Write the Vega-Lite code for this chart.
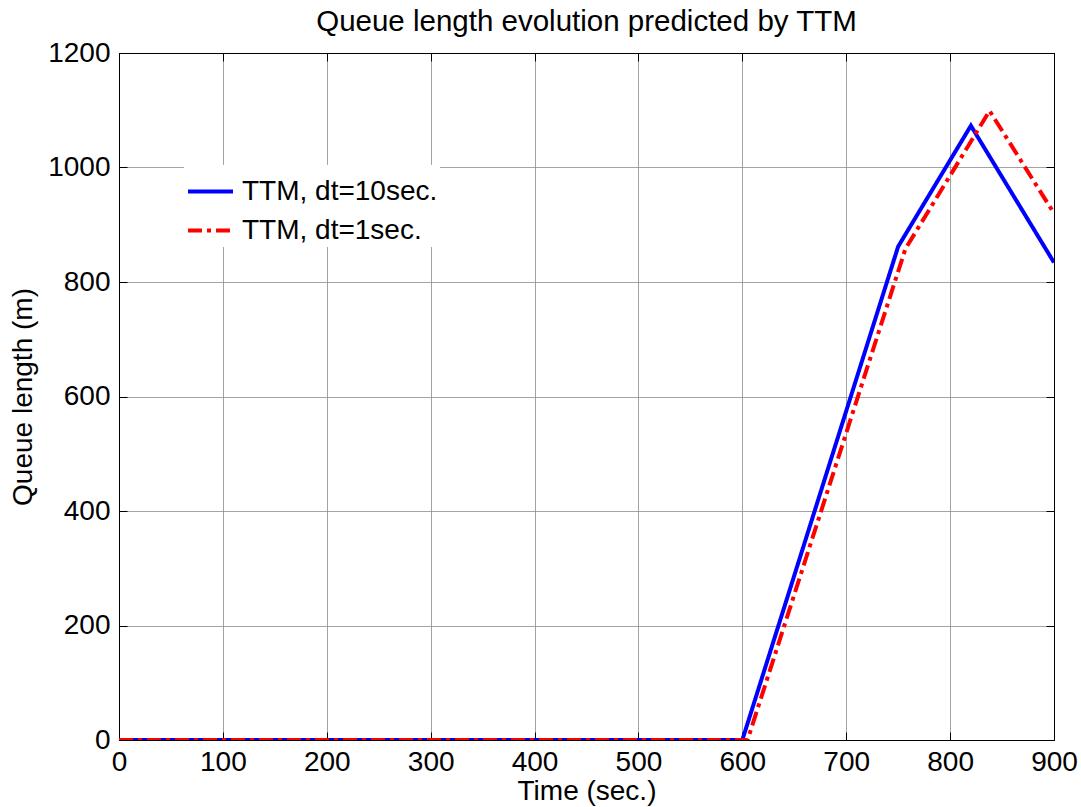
{
  "$schema": "https://vega.github.io/schema/vega-lite/v6.json",
  "width": 935,
  "height": 687,
  "autosize": {"type": "none"},
  "padding": {"left": 119, "top": 53, "right": 27, "bottom": 67},
  "background": "white",
  "title": {
    "text": "Queue length evolution predicted by TTM",
    "font": "Liberation Sans",
    "fontSize": 29.5,
    "fontWeight": "normal",
    "color": "black",
    "anchor": "middle",
    "frame": "group",
    "baseline": "bottom",
    "offset": 14,
    "dy": 41
  },
  "data": {
    "values": [
      {"t": 0, "q": 0, "series": "TTM, dt=10sec."},
      {"t": 600, "q": 0, "series": "TTM, dt=10sec."},
      {"t": 750, "q": 862, "series": "TTM, dt=10sec."},
      {"t": 820, "q": 1073, "series": "TTM, dt=10sec."},
      {"t": 900, "q": 834, "series": "TTM, dt=10sec."},
      {"t": 0, "q": 0, "series": "TTM, dt=1sec."},
      {"t": 605, "q": 0, "series": "TTM, dt=1sec."},
      {"t": 757, "q": 858, "series": "TTM, dt=1sec."},
      {"t": 838, "q": 1099, "series": "TTM, dt=1sec."},
      {"t": 900, "q": 920, "series": "TTM, dt=1sec."}
    ]
  },
  "layer": [
    {
      "transform": [{"filter": "datum.series === 'TTM, dt=10sec.'"}],
      "mark": {"type": "line", "strokeWidth": 4, "strokeCap": "butt", "strokeJoin": "miter", "clip": true},
      "encoding": {
        "x": {
          "field": "t", "type": "quantitative",
          "scale": {"domain": [0, 900], "nice": false},
          "axis": {
            "orient": "bottom",
            "title": "Time (sec.)",
            "values": [0, 100, 200, 300, 400, 500, 600, 700, 800, 900],
            "format": "d",
            "labelFlush": false,
            "grid": true,
            "tickSize": -8,
            "labelPadding": 16
          }
        },
        "y": {
          "field": "q", "type": "quantitative",
          "scale": {"domain": [0, 1200], "nice": false},
          "axis": {
            "orient": "left",
            "title": "Queue length (m)",
            "values": [0, 200, 400, 600, 800, 1000, 1200],
            "format": "d",
            "labelFlush": false,
            "grid": true,
            "tickSize": -8,
            "labelPadding": 17
          }
        },
        "color": {
          "field": "series", "type": "nominal",
          "scale": {"domain": ["TTM, dt=10sec.", "TTM, dt=1sec."], "range": ["#0000ff", "#ff0000"]},
          "legend": {
            "title": null,
            "orient": "none",
            "legendX": 65,
            "legendY": 112,
            "fillColor": "white",
            "strokeColor": null,
            "padding": 2,
            "symbolType": "stroke",
            "symbolSize": 2025,
            "symbolStrokeWidth": 4,
            "labelFont": "Liberation Sans",
            "labelFontSize": 28,
            "labelColor": "black",
            "labelOffset": 7,
            "rowPadding": -1,
            "labelLimit": 400
          }
        },
        "strokeDash": {
          "field": "series", "type": "nominal",
          "scale": {"domain": ["TTM, dt=10sec.", "TTM, dt=1sec."], "range": [[1, 0], [14, 5, 4, 5]]},
          "legend": null
        }
      }
    },
    {
      "transform": [{"filter": "datum.series === 'TTM, dt=1sec.'"}],
      "mark": {"type": "line", "strokeWidth": 4, "strokeCap": "butt", "strokeJoin": "miter", "clip": true},
      "encoding": {
        "x": {
          "field": "t", "type": "quantitative",
          "axis": {
            "orient": "top",
            "title": null,
            "labels": false,
            "values": [0, 100, 200, 300, 400, 500, 600, 700, 800, 900],
            "grid": false,
            "tickSize": -8
          }
        },
        "y": {
          "field": "q", "type": "quantitative",
          "axis": {
            "orient": "right",
            "title": null,
            "labels": false,
            "values": [0, 200, 400, 600, 800, 1000, 1200],
            "grid": false,
            "tickSize": -8
          }
        },
        "color": {"field": "series", "type": "nominal"},
        "strokeDash": {"field": "series", "type": "nominal", "legend": null}
      }
    }
  ],
  "resolve": {"axis": {"x": "independent", "y": "independent"}},
  "config": {
    "view": {"stroke": null},
    "axis": {
      "domainColor": "black",
      "domainWidth": 1,
      "tickColor": "black",
      "tickWidth": 1,
      "gridColor": "#8c8c8c",
      "gridWidth": 1,
      "gridOpacity": 0.8,
      "labelFont": "Liberation Sans",
      "labelFontSize": 28,
      "labelColor": "black",
      "titleFont": "Liberation Sans",
      "titleFontSize": 28,
      "titleFontWeight": "normal",
      "titleColor": "black"
    },
    "axisX": {"titlePadding": 1},
    "axisY": {"titlePadding": 10}
  }
}
